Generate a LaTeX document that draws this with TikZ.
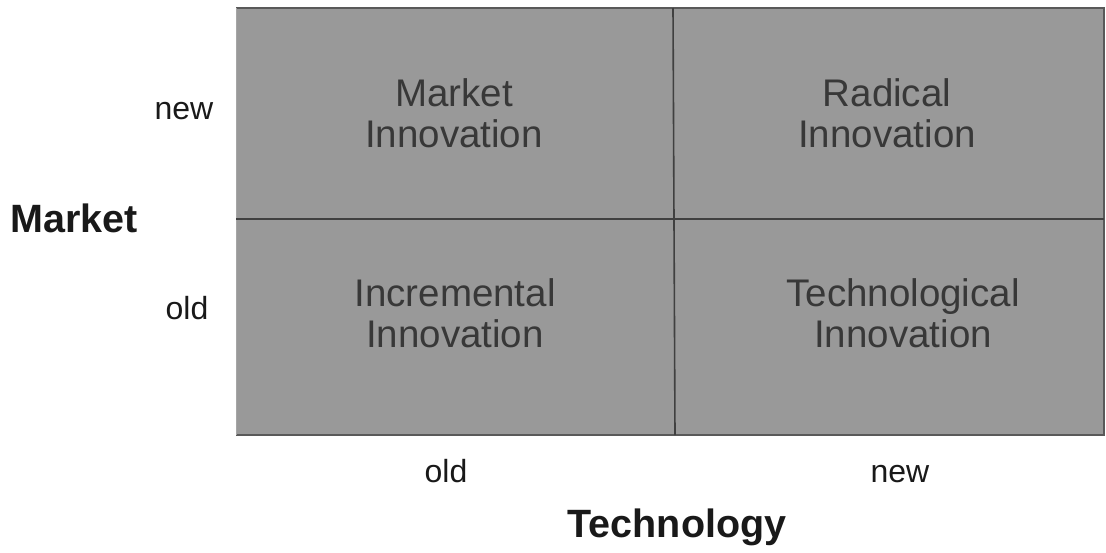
\documentclass[tikz,border=0pt]{standalone}
\usepackage{fontspec}
\setmainfont{Liberation Sans}
\begin{document}
\begin{tikzpicture}[x=1pt,y=-1pt,
  celltext/.style={align=center,font=\fontsize{38.5}{41}\selectfont,text=black!78},
  axlabel/.style={font=\fontsize{32}{34}\selectfont,text=black!90,anchor=base},
  axtitle/.style={font=\bfseries\fontsize{39.5}{42}\selectfont,text=black!90},
  gridline/.style={draw=black!75,line width=1.6pt}]
\useasboundingbox (0,0) rectangle (1106,552);
\fill[black!40] (236,8) rectangle (1104,435);
\draw[black!65,line width=1.5pt] (236,8) -- (1104,8) -- (1104,435) -- (236,435);
\draw[black!35,line width=1pt] (236,8) -- (236,435);
\coordinate (vt) at (673,8);
\coordinate (vb) at (675,435);
\coordinate (hl) at (236,219);
\coordinate (hr) at (1104,219);
\draw[gridline] (vt) -- (vb);
\draw[gridline] (hl) -- (hr);
\node[celltext] (mi) at (454,113) {Market\\Innovation};
\node[celltext] (ri) at (887,113) {Radical\\Innovation};
\node[celltext] (ii) at (455,313) {Incremental\\Innovation};
\node[celltext] (ti) at (903,313) {Technological\\Innovation};
\node[axlabel] (ln) at (184,119) {new};
\node[axlabel] (lo) at (187,319) {old};
\node[axtitle] (mk) at (74,218) {Market};
\node[axlabel] (bo) at (446,482) {old};
\node[axlabel] (bn) at (900,482) {new};
\node[axtitle] (tk) at (677,527) {Technology};
\end{tikzpicture}
\end{document}
